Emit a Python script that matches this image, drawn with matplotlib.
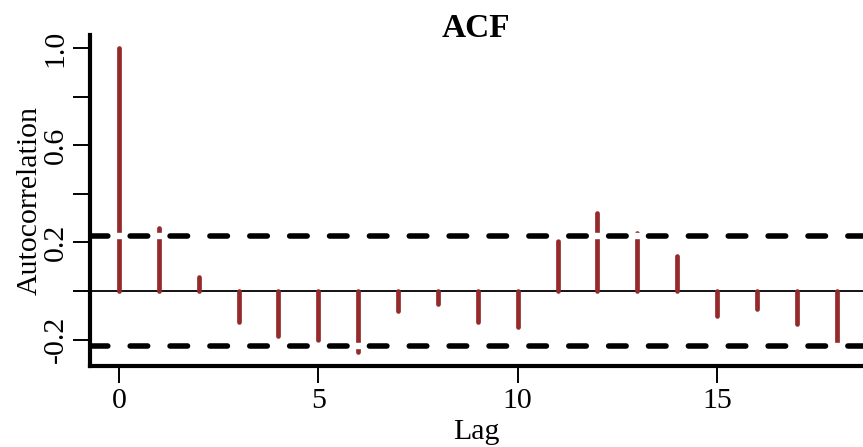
import matplotlib
matplotlib.use("Agg")
import matplotlib.pyplot as plt

# Sample autocorrelations by lag
lags = list(range(19))
acf_values = [1.0, 0.261, 0.058, -0.128, -0.184, -0.201, -0.252, -0.084,
              -0.054, -0.128, -0.150, 0.206, 0.319, 0.239, 0.143, -0.102,
              -0.073, -0.136, -0.216]
conf_bound = 0.226

y_ticks = [-0.2, 0.0, 0.2, 0.4, 0.6, 0.8, 1.0]
y_tick_labels = ["-0.2", "", "0.2", "", "0.6", "", "1.0"]
x_ticks = [0, 5, 10, 15]
x_tick_labels = ["0", "5", "10", "15"]

plt.rcParams['font.family'] = ['Liberation Serif', 'DejaVu Serif']
plt.rcParams['lines.scale_dashes'] = False

W, H, DPI = 863, 447, 100
fig = plt.figure(figsize=(W / DPI, H / DPI), dpi=DPI)
ax = fig.add_axes([90 / W, 1 - 366 / H, (W - 90) / W, (366 - 35) / H])
ax.set_xlim(-0.727, 18.66)
ax.set_ylim(-0.309, 1.054)

bar_color = "#942a2a"
bars = ax.vlines(lags, 0, acf_values, colors=bar_color, linewidth=3.4, zorder=2)
bars.set_capstyle('round')

ax.axhline(0, color='black', linewidth=1.3, zorder=1.5)

# Dashed confidence bounds: gaps centred on each lag
fig.canvas.draw()
x0_disp = ax.transData.transform((ax.get_xlim()[0], 0))[0]
x_half = ax.transData.transform((0.5, 0))[0]
period_px = ax.transData.transform((1, 0))[0] - ax.transData.transform((0, 0))[0]
on_px = 17.5
offset_px = (on_px / 2 - ((x_half - x0_disp) % period_px)) % period_px
px2pt = 72.0 / DPI
dash = (offset_px * px2pt, (on_px * px2pt, (period_px - on_px) * px2pt))

xl = ax.get_xlim()
for yb in (conf_bound, -conf_bound):
    ax.plot(xl, [yb, yb], color='white', linewidth=4.6, solid_capstyle='butt', zorder=3)
    ax.plot(xl, [yb, yb], color='black', linewidth=4.0, linestyle=dash,
            dash_capstyle='round', zorder=3.5)

ax.spines['top'].set_visible(False)
ax.spines['right'].set_visible(False)
for s in ('left', 'bottom'):
    ax.spines[s].set_linewidth(3.0)
    ax.spines[s].set_zorder(5)
    ax.spines[s].set_capstyle('projecting')

ax.set_yticks(y_ticks)
ax.set_yticklabels(y_tick_labels, rotation=90, va='center')
ax.set_xticks(x_ticks)
ax.set_xticklabels(x_tick_labels)
ax.tick_params(axis='both', length=12, width=1.4, labelsize=21.5, pad=3.5)

ax.set_xlabel("Lag", fontsize=21.5, labelpad=4)
ax.set_ylabel("Autocorrelation", fontsize=21.5, labelpad=0)
fig.text(476 / W, 1 - 37 / H, "ACF", fontsize=24, fontweight='bold',
         ha='center', va='baseline')

fig.savefig("out.png", dpi=DPI)
